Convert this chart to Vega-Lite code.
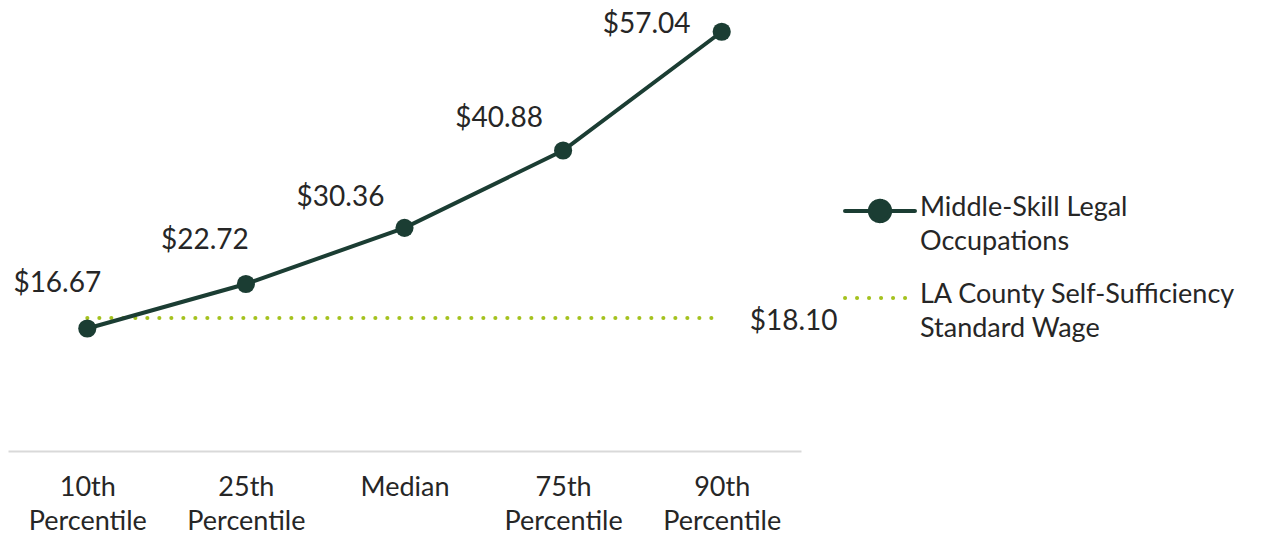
{
  "$schema": "https://vega.github.io/schema/vega-lite/v6.json",
  "width": 793,
  "height": 441,
  "autosize": {"type": "none"},
  "padding": {"left": 8, "top": 10, "right": 465, "bottom": 85},
  "background": "white",
  "config": {
    "view": {"stroke": null},
    "font": "Lato",
    "text": {"font": "Lato", "fontSize": 28, "color": "#262626"}
  },
  "datasets": {
    "wages": [
      {"pct": "10th Percentile", "wage": 16.67, "series": "Middle-Skill Legal Occupations"},
      {"pct": "25th Percentile", "wage": 22.72, "series": "Middle-Skill Legal Occupations"},
      {"pct": "Median", "wage": 30.36, "series": "Middle-Skill Legal Occupations"},
      {"pct": "75th Percentile", "wage": 40.88, "series": "Middle-Skill Legal Occupations"},
      {"pct": "90th Percentile", "wage": 57.04, "series": "Middle-Skill Legal Occupations"}
    ],
    "ref": [
      {"pct": "10th Percentile", "wage": 18.10, "series": "LA County Self-Sufficiency Standard Wage"},
      {"pct": "90th Percentile", "wage": 18.10, "series": "LA County Self-Sufficiency Standard Wage"}
    ]
  },
  "encoding": {
    "x": {
      "field": "pct",
      "type": "ordinal",
      "sort": ["10th Percentile", "25th Percentile", "Median", "75th Percentile", "90th Percentile"],
      "scale": {"type": "point", "padding": 0.5},
      "axis": {
        "title": null,
        "labelAngle": 0,
        "labelExpr": "split(datum.label, ' ')",
        "labelFont": "Lato",
        "labelFontSize": 27,
        "labelColor": "#262626",
        "labelLineHeight": 34,
        "labelBaseline": "top",
        "labelPadding": 23,
        "ticks": false,
        "grid": false,
        "domainColor": "#d9d9d9",
        "domainWidth": 2
      }
    },
    "y": {
      "field": "wage",
      "type": "quantitative",
      "scale": {"domain": [0, 60], "nice": false, "zero": true},
      "axis": null
    }
  },
  "layer": [
    {
      "data": {"name": "ref"},
      "mark": {"type": "line", "strokeWidth": 4, "strokeDash": [0.1, 11.9], "strokeCap": "round"},
      "encoding": {
        "color": {
          "field": "series",
          "type": "nominal",
          "scale": {
            "domain": ["Middle-Skill Legal Occupations", "LA County Self-Sufficiency Standard Wage"],
            "range": ["#1b3d33", "#a5c21f"]
          },
          "legend": {
            "orient": "none",
            "legendX": 835,
            "legendY": 164,
            "title": null,
            "padding": 0,
            "symbolType": "M-1,0H1",
            "symbolSize": 4900,
            "symbolStrokeWidth": 4,
            "labelFont": "Lato",
            "labelFontSize": 27,
            "labelColor": "#262626",
            "labelLimit": 0,
            "labelOffset": 3,
            "labelBaseline": "top",
            "rowPadding": 6,
            "labelExpr": "datum.value == 'Middle-Skill Legal Occupations' ? ['Middle-Skill Legal', 'Occupations'] : ['LA County Self-Sufficiency', 'Standard Wage']",
            "encode": {
              "symbols": {
                "update": {
                  "shape": {"signal": "datum.index === 0 ? 'M-1,0H1M0.29,0A0.29,0.29,0,1,1,-0.29,0A0.29,0.29,0,1,1,0.29,0' : 'M-1,0H0.9'"},
                  "fill": {"signal": "datum.index === 0 ? '#1b3d33' : 'transparent'"},
                  "strokeDash": {"signal": "datum.index === 0 ? [1, 0] : [0.1, 11.9]"},
                  "strokeCap": {"value": "round"},
                  "strokeWidth": {"value": 4}
                }
              },
              "labels": {
                "update": {"dy": {"value": -16}, "lineHeight": {"value": 34}}
              }
            }
          }
        }
      }
    },
    {
      "data": {"name": "wages"},
      "mark": {"type": "line", "strokeWidth": 4},
      "encoding": {
        "color": {"field": "series", "type": "nominal"}
      }
    },
    {
      "data": {"name": "wages"},
      "mark": {"type": "point", "filled": true, "size": 330, "opacity": 1, "color": "#1b3d33"},
      "encoding": {}
    },
    {
      "data": {"name": "wages"},
      "transform": [{"filter": "datum.pct == '10th Percentile'"}],
      "mark": {"type": "text", "dx": -30, "dy": -44, "baseline": "middle"},
      "encoding": {"text": {"field": "wage", "type": "quantitative", "format": "$.2f"}}
    },
    {
      "data": {"name": "wages"},
      "transform": [{"filter": "datum.pct == '25th Percentile'"}],
      "mark": {"type": "text", "dx": -41, "dy": -43, "baseline": "middle"},
      "encoding": {"text": {"field": "wage", "type": "quantitative", "format": "$.2f"}}
    },
    {
      "data": {"name": "wages"},
      "transform": [{"filter": "datum.pct == 'Median'"}],
      "mark": {"type": "text", "dx": -64, "dy": -30, "baseline": "middle"},
      "encoding": {"text": {"field": "wage", "type": "quantitative", "format": "$.2f"}}
    },
    {
      "data": {"name": "wages"},
      "transform": [{"filter": "datum.pct == '75th Percentile'"}],
      "mark": {"type": "text", "dx": -64, "dy": -32, "baseline": "middle"},
      "encoding": {"text": {"field": "wage", "type": "quantitative", "format": "$.2f"}}
    },
    {
      "data": {"name": "wages"},
      "transform": [{"filter": "datum.pct == '90th Percentile'"}],
      "mark": {"type": "text", "dx": -75, "dy": -7, "baseline": "middle"},
      "encoding": {"text": {"field": "wage", "type": "quantitative", "format": "$.2f"}}
    },
    {
      "data": {"name": "ref"},
      "transform": [{"filter": "datum.pct == '90th Percentile'"}],
      "mark": {"type": "text", "dx": 72, "dy": 4, "baseline": "middle"},
      "encoding": {"text": {"field": "wage", "type": "quantitative", "format": "$.2f"}}
    }
  ]
}
